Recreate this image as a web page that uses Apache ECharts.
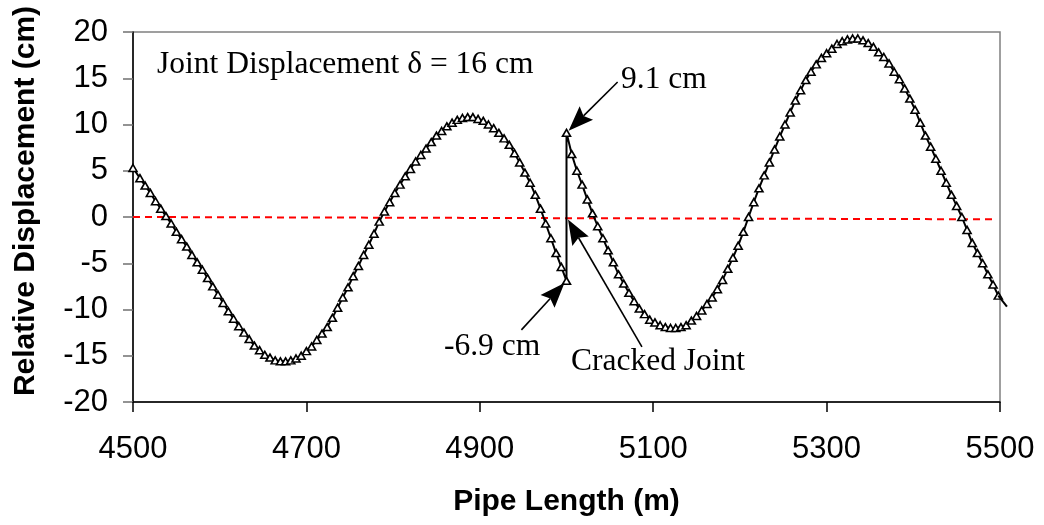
<!DOCTYPE html>
<html>
<head>
<meta charset="utf-8">
<script src="https://cdn.jsdelivr.net/npm/echarts@6/dist/echarts.min.js"></script>
<style>
  html, body { margin: 0; padding: 0; background: #fff; }
  #chart { width: 1044px; height: 525px; }
</style>
</head>
<body>
<div id="chart"></div>
<script>
// Pipe length (m) and relative displacement (cm), west of the cracked joint
const westLength = [4500,4508,4514,4520,4526,4532,4538,4544,4550,4556,4562,4568,4574,4580,4586,4592,4598,4604,4610,4616,
  4622,4628,4634,4640,4646,4652,4658,4664,4670,4676,4682,4688,4694,4700,4706,4712,4718,4724,4730,4736,
  4742,4748,4754,4760,4766,4772,4778,4784,4790,4796,4802,4808,4814,4820,4826,4832,4838,4844,4850,4856,
  4862,4868,4874,4880,4886,4892,4898,4904,4910,4916,4922,4928,4934,4940,4946,4952,4958,4964,4970,4976,
  4982,4988,4994,5000];
const westDisp = [5.3,4.2,3.4,2.6,1.7,0.9,0.1,-0.7,-1.6,-2.4,-3.2,-4.1,-4.9,-5.7,-6.6,-7.5,-8.4,-9.3,-10.2,-11.0,
  -11.8,-12.5,-13.2,-13.9,-14.4,-14.9,-15.2,-15.5,-15.6,-15.6,-15.5,-15.3,-15.0,-14.5,-14.0,-13.3,-12.6,-11.9,-10.9,-9.8,
  -8.7,-7.6,-6.4,-5.3,-4.1,-3.0,-1.8,-0.5,0.6,1.6,2.6,3.5,4.4,5.2,6.0,6.7,7.4,8.1,8.8,9.3,
  9.8,10.2,10.5,10.7,10.8,10.8,10.6,10.4,10.0,9.6,9.1,8.5,7.8,6.9,5.9,4.8,3.7,2.4,0.9,-0.7,
  -2.3,-3.9,-5.4,-6.9];

// Pipe length (m) and relative displacement (cm), east of the cracked joint
const eastLength = [5000,5006,5012,5018,5024,5030,5036,5042,5048,5054,5060,5066,5072,5078,5084,5090,5096,5102,5108,5114,
  5120,5126,5132,5138,5144,5150,5156,5162,5168,5174,5180,5186,5192,5198,5204,5210,5216,5222,5228,5234,
  5240,5246,5252,5258,5264,5270,5276,5282,5288,5294,5300,5306,5312,5318,5324,5330,5336,5342,5348,5354,
  5360,5366,5372,5378,5384,5390,5396,5402,5408,5414,5420,5426,5432,5438,5444,5450,5456,5462,5468,5474,
  5480,5486,5492,5498];
const eastDisp = [9.1,6.8,5.0,3.5,1.9,0.4,-1.0,-2.3,-3.6,-4.9,-6.2,-7.2,-8.2,-9.1,-9.9,-10.5,-11.1,-11.4,-11.7,-11.9,
  -12.0,-12.0,-11.9,-11.7,-11.2,-10.7,-10.1,-9.4,-8.7,-7.8,-6.8,-5.6,-4.4,-3.1,-1.6,0.0,1.6,3.1,4.5,5.9,
  7.3,8.7,10.0,11.3,12.6,13.7,14.8,15.7,16.5,17.2,17.7,18.2,18.7,19.0,19.2,19.3,19.3,19.1,18.8,18.4,
  17.8,17.3,16.6,15.7,14.9,13.9,12.8,11.6,10.2,8.8,7.6,6.3,5.0,3.7,2.4,1.2,0.0,-1.4,-2.8,-3.9,
  -5.0,-6.2,-7.3,-8.5];

// Next node past the right edge of the window (the line runs on to it, unmarked)
const overrunLength = [5508];
const overrunDisp = [-9.7];

// Zero reference line
const zeroLength = [4500, 5495];
const zeroDisp = [0, -0.25];

// Axis tick labels
const xTickLabels = [4500, 4700, 4900, 5100, 5300, 5500];
const yTickLabels = [-20, -15, -10, -5, 0, 5, 10, 15, 20];

// Callout anchors (m, cm) where the arrows start
const highCalloutFrom = [5059, 14.6];
const lowCalloutFrom = [4948, -12.2];
const crackCalloutFrom = [5087, -14.05];

const jointLength = westLength[westLength.length - 1];
const jointLow = westDisp[westDisp.length - 1];
const jointHigh = eastDisp[0];
const jointOpening = Math.round((jointHigh - jointLow) * 10) / 10;

const xMin = xTickLabels[0], xMax = xTickLabels[xTickLabels.length - 1];
const yMin = yTickLabels[0], yMax = yTickLabels[yTickLabels.length - 1];

const sans = '"Liberation Sans", Arial, sans-serif';
const serif = '"Liberation Serif", "Times New Roman", serif';

const profile = [];
westLength.forEach((x, i) => profile.push([x, westDisp[i]]));
eastLength.forEach((x, i) => profile.push([x, eastDisp[i]]));

const chart = echarts.init(document.getElementById('chart'), null, { renderer: 'canvas' });

chart.setOption({
  animation: false,
  backgroundColor: '#ffffff',
  grid: {
    left: 133, right: 44, top: 32, bottom: 123,
    show: true, borderColor: '#808080', borderWidth: 1.5, backgroundColor: '#ffffff'
  },
  xAxis: {
    type: 'value', min: xMin, max: xMax, interval: xTickLabels[1] - xTickLabels[0],
    axisLine: { show: true, onZero: false, lineStyle: { color: '#000', width: 1.5 } },
    axisTick: { show: true, length: 10, lineStyle: { color: '#000', width: 1.5 } },
    axisLabel: {
      fontFamily: sans, fontSize: 31, color: '#000', margin: 32,
      showMinLabel: true, showMaxLabel: true, hideOverlap: false,
      formatter: v => String(v)
    },
    splitLine: { show: false },
    name: 'Pipe Length (m)', nameLocation: 'middle', nameGap: 85,
    nameTextStyle: { fontFamily: sans, fontSize: 30, fontWeight: 'bold', color: '#000' }
  },
  yAxis: {
    type: 'value', min: yMin, max: yMax, interval: yTickLabels[1] - yTickLabels[0],
    axisLine: { show: true, onZero: false, lineStyle: { color: '#000', width: 1.5 } },
    axisTick: { show: true, length: 10, lineStyle: { color: '#707070', width: 1.5 } },
    axisLabel: {
      fontFamily: sans, fontSize: 31, color: '#000', margin: 25,
      showMinLabel: true, showMaxLabel: true, hideOverlap: false,
      formatter: v => String(v)
    },
    splitLine: { show: false }
  },
  series: [
    {
      name: 'zero', type: 'line', z: 2, silent: true, symbol: 'none',
      data: zeroLength.map((x, i) => [x, zeroDisp[i]]),
      lineStyle: { color: '#ff0000', width: 2, type: [7, 5] }
    },
    {
      name: 'profile', type: 'line', z: 3, silent: true,
      data: profile,
      symbol: 'triangle',
      symbolSize: [8, 7],
      itemStyle: { color: '#ffffff', borderColor: '#000000', borderWidth: 1.6 },
      lineStyle: { color: '#000000', width: 2 }
    }
  ]
});

// Segment from the last marked node to the unmarked node beyond the window edge
const lastIn = chart.convertToPixel({ gridIndex: 0 }, [eastLength[eastLength.length - 1], eastDisp[eastDisp.length - 1]]);
const beyond = chart.convertToPixel({ gridIndex: 0 }, [overrunLength[0], overrunDisp[0]]);

// Callout arrows: a straight leader ending in a filled head at the data point
function arrow(fromData, toData) {
  const p0 = chart.convertToPixel({ gridIndex: 0 }, fromData);
  const p1 = chart.convertToPixel({ gridIndex: 0 }, toData);
  const dx = p1[0] - p0[0], dy = p1[1] - p0[1];
  const len = Math.hypot(dx, dy);
  const ux = dx / len, uy = dy / len;
  const nx = -uy, ny = ux;
  const tip = [p1[0] - ux * 3, p1[1] - uy * 3];
  const headLen = 25, headHalf = 9.5, notch = 21;
  const back = [tip[0] - ux * headLen, tip[1] - uy * headLen];
  const mid = [tip[0] - ux * notch, tip[1] - uy * notch];
  return [
    {
      type: 'line', z: 50, silent: true,
      shape: { x1: p0[0], y1: p0[1], x2: mid[0], y2: mid[1] },
      style: { stroke: '#000', lineWidth: 1.6 }
    },
    {
      type: 'polygon', z: 51, silent: true,
      shape: { points: [tip, [back[0] + nx * headHalf, back[1] + ny * headHalf], mid, [back[0] - nx * headHalf, back[1] - ny * headHalf]] },
      style: { fill: '#000' }
    }
  ];
}

const textStyle = (text, size) => ({ text, font: size + 'px ' + serif, fill: '#000', align: 'left', verticalAlign: 'middle' });

chart.setOption({
  graphic: [
    {
      type: 'text', x: 26, y: 201, rotation: Math.PI / 2,
      style: { text: 'Relative Displacement (cm)', font: 'bold 30px ' + sans, fill: '#000', align: 'center', verticalAlign: 'middle' }
    },
    { type: 'text', x: 157, y: 65, style: textStyle('Joint Displacement \u03b4 = ' + jointOpening + ' cm', 31.5) },
    { type: 'text', x: 621, y: 80, style: textStyle(jointHigh + ' cm', 31.5) },
    { type: 'text', x: 444, y: 347, style: textStyle(jointLow + ' cm', 31.5) },
    { type: 'text', x: 571, y: 362, style: textStyle('Cracked Joint', 31.5) },
    {
      type: 'line', z: 4, silent: true,
      shape: { x1: lastIn[0], y1: lastIn[1], x2: beyond[0], y2: beyond[1] },
      style: { stroke: '#000', lineWidth: 2 }
    }
  ]
    .concat(arrow(highCalloutFrom, [jointLength, jointHigh]))
    .concat(arrow(lowCalloutFrom, [jointLength, jointLow]))
    .concat(arrow(crackCalloutFrom, [jointLength, 0]))
});
</script>
</body>
</html>
